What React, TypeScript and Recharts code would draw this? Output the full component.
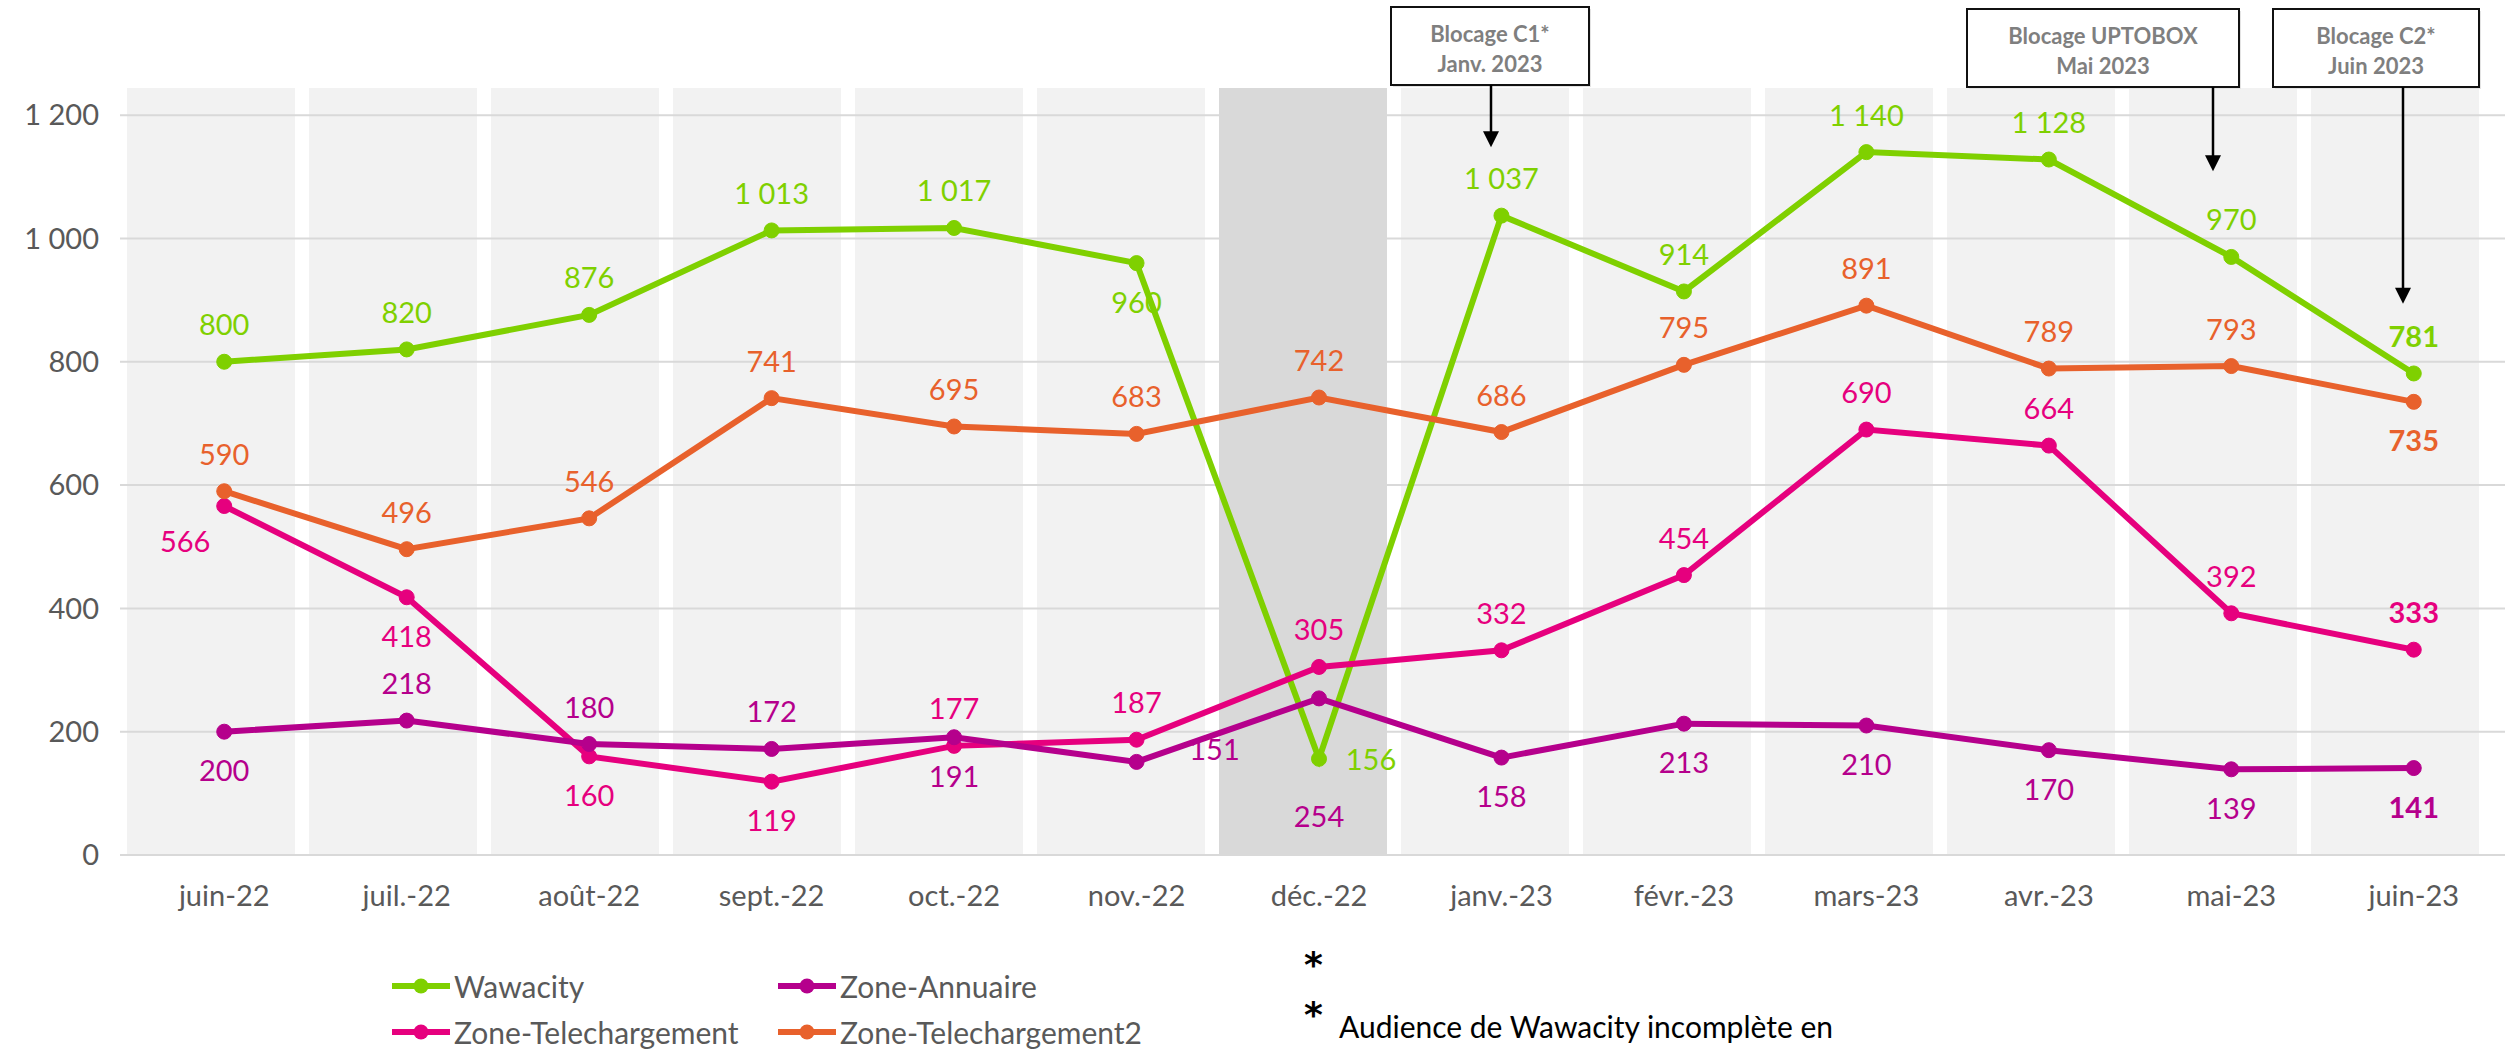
import React from "react";
import { Bar, Cell, ComposedChart, LabelList, Line, ReferenceLine, XAxis, YAxis } from "recharts";

const months = [
  "juin-22", "juil.-22", "août-22", "sept.-22", "oct.-22", "nov.-22", "déc.-22",
  "janv.-23", "févr.-23", "mars-23", "avr.-23", "mai-23", "juin-23",
];
const wawacity = [800, 820, 876, 1013, 1017, 960, 156, 1037, 914, 1140, 1128, 970, 781];
const zoneAnnuaire = [200, 218, 180, 172, 191, 151, 254, 158, 213, 210, 170, 139, 141];
const zoneTelechargement = [566, 418, 160, 119, 177, 187, 305, 332, 454, 690, 664, 392, 333];
const zoneTelechargement2 = [590, 496, 546, 741, 695, 683, 742, 686, 795, 891, 789, 793, 735];
const yTicks = [0, 200, 400, 600, 800, 1000, 1200];
const yMax = 1244;
const highlightMonth = "déc.-22";

const annotations = [
  { month: "janv.-23", lines: ["Blocage C1*", "Janv. 2023"], target: 1148 },
  { month: "mai-23", lines: ["Blocage UPTOBOX", "Mai 2023"], target: 1109 },
  { month: "juin-23", lines: ["Blocage C2*", "Juin 2023"], target: 894 },
];

// label placement per point (style only)
const wawacityPlace = ["top", "top", "top", "top", "top", "bottom", "right", "top", "top", "top", "top", "top", "top"];
const annuairePlace = ["bottom", "top", "top", "top", "bottom", "farRight", "farBottom", "bottom", "bottom", "bottom", "bottom", "bottom", "bottom"];
const telechPlace = ["bottomLeft", "bottom", "bottom", "bottom", "top", "top", "top", "top", "top", "top", "top", "top", "top"];
const telech2Place = ["top", "top", "top", "top", "top", "top", "top", "top", "top", "top", "top", "top", "bottom"];

const offsets: Record<string, [number, number]> = {
  top: [0, -38],
  bottom: [0, 38],
  right: [52, 0],
  farRight: [78, -13],
  bottomLeft: [-39, 34],
  farBottom: [0, 117],
};

// annotation box geometry: arrow shift, box shift from arrow, width, top
const boxStyle = [
  { ax: 6, dx: -1, w: 198, top: 7 },
  { ax: 0, dx: -110, w: 272, top: 9 },
  { ax: 8, dx: -27, w: 206, top: 9 },
];

const FONT = "Lato, 'Open Sans', sans-serif";
const GREEN = "#7FD000";
const PURPLE = "#B5008C";
const PINK = "#E6007E";
const ORANGE = "#E8612C";
const GREY_TEXT = "#595959";

const rows = months.map((m, i) => ({
  month: m,
  band: yMax,
  wawacity: wawacity[i],
  zoneAnnuaire: zoneAnnuaire[i],
  zoneTelechargement: zoneTelechargement[i],
  zoneTelechargement2: zoneTelechargement2[i],
}));

const fmt = (v: number) => String(v).replace(/\B(?=(\d{3})+(?!\d))/g, " ");

function makeLabel(color: string, place: string[]) {
  return (props: any) => {
    const { x, y, value, index } = props;
    const [dx, dy] = offsets[place[index]] ?? [0, -38];
    const last = index === months.length - 1;
    return (
      <text
        x={x + dx}
        y={y + dy}
        fill={color}
        textAnchor="middle"
        dominantBaseline="central"
        fontSize={29}
        fontWeight={last ? 700 : 400}
        fontFamily={FONT}
      >
        {fmt(value)}
      </text>
    );
  };
}

function makeAnnotation(idx: number) {
  const a = annotations[idx];
  const s = boxStyle[idx];
  return (props: any) => {
    const ax = props.x1 + s.ax;
    const y2 = props.y2;
    const bx = ax + s.dx - s.w / 2;
    const h = 78;
    const bottom = s.top + h;
    return (
      <g>
        <rect x={bx + 2} y={s.top + 2} width={s.w} height={h} fill="#e3e3e3" />
        <rect x={bx} y={s.top} width={s.w} height={h} fill="#fff" stroke="#111" strokeWidth={2} />
        {a.lines.map((t, k) => (
          <text
            key={k}
            x={bx + s.w / 2}
            y={s.top + 26 + k * 30}
            textAnchor="middle"
            dominantBaseline="central"
            fontSize={22}
            fontWeight={700}
            fontFamily={FONT}
            fill="#7F7F7F"
          >
            {t}
          </text>
        ))}
        <line x1={ax} y1={bottom} x2={ax} y2={y2 - 14} stroke="#000" strokeWidth={2.5} />
        <polygon points={`${ax - 8},${y2 - 16} ${ax + 8},${y2 - 16} ${ax},${y2}`} fill="#000" />
      </g>
    );
  };
}

const legendItems = [
  { name: "Wawacity", color: GREEN, x: 392, y: 986 },
  { name: "Zone-Annuaire", color: PURPLE, x: 778, y: 986 },
  { name: "Zone-Telechargement", color: PINK, x: 392, y: 1032 },
  { name: "Zone-Telechargement2", color: ORANGE, x: 778, y: 1032 },
];

export default function App() {
  return (
    <div style={{ position: "absolute", left: 0, top: 0, width: 2506, height: 1051, background: "#fff" }}>
      <ComposedChart
        width={2506}
        height={1051}
        data={rows}
        margin={{ top: 88, right: 1, bottom: 136, left: 0 }}
      >
        <XAxis xAxisId="bands" dataKey="month" hide padding={{ left: 0, right: 19 }} />
        <XAxis
          xAxisId="main"
          dataKey="month"
          padding={{ left: 13, right: 0 }}
          height={60}
          axisLine={false}
          tickLine={false}
          tickSize={0}
          tickMargin={0}
          interval={0}
          tick={{ fill: GREY_TEXT, fontSize: 29, fontFamily: FONT }}
        />
        <YAxis
          domain={[0, yMax]}
          ticks={yTicks}
          allowDataOverflow
          width={120}
          axisLine={false}
          tickLine={false}
          tickSize={0}
          tickMargin={21}
          tickFormatter={fmt}
          tick={{ fill: GREY_TEXT, fontSize: 29, fontFamily: FONT }}
        />
        <Bar xAxisId="bands" dataKey="band" barSize={168} isAnimationActive={false}>
          {rows.map((r) => (
            <Cell key={r.month} fill={r.month === highlightMonth ? "#D9D9D9" : "#F2F2F2"} />
          ))}
        </Bar>
        {yTicks.map((t) => (
          <ReferenceLine key={t} xAxisId="main" y={t} stroke="#D9D9D9" strokeWidth={2} />
        ))}
        <Line
          xAxisId="main"
          dataKey="wawacity"
          stroke={GREEN}
          strokeWidth={6}
          dot={{ r: 7.5, fill: GREEN, stroke: GREEN, strokeWidth: 1 }}
          isAnimationActive={false}
        >
          <LabelList dataKey="wawacity" content={makeLabel(GREEN, wawacityPlace)} />
        </Line>
        <Line
          xAxisId="main"
          dataKey="zoneTelechargement"
          stroke={PINK}
          strokeWidth={6}
          dot={{ r: 7.5, fill: PINK, stroke: PINK, strokeWidth: 1 }}
          isAnimationActive={false}
        >
          <LabelList dataKey="zoneTelechargement" content={makeLabel(PINK, telechPlace)} />
        </Line>
        <Line
          xAxisId="main"
          dataKey="zoneAnnuaire"
          stroke={PURPLE}
          strokeWidth={6}
          dot={{ r: 7.5, fill: PURPLE, stroke: PURPLE, strokeWidth: 1 }}
          isAnimationActive={false}
        >
          <LabelList dataKey="zoneAnnuaire" content={makeLabel(PURPLE, annuairePlace)} />
        </Line>
        <Line
          xAxisId="main"
          dataKey="zoneTelechargement2"
          stroke={ORANGE}
          strokeWidth={6}
          dot={{ r: 7.5, fill: ORANGE, stroke: ORANGE, strokeWidth: 1 }}
          isAnimationActive={false}
        >
          <LabelList dataKey="zoneTelechargement2" content={makeLabel(ORANGE, telech2Place)} />
        </Line>
        {annotations.map((a, i) => (
          <ReferenceLine
            key={a.month}
            xAxisId="bands"
            ifOverflow="visible"
            segment={[
              { x: a.month, y: yMax },
              { x: a.month, y: a.target },
            ]}
            shape={makeAnnotation(i)}
          />
        ))}
      </ComposedChart>

      {legendItems.map((l) => (
        <div
          key={l.name}
          style={{
            position: "absolute",
            left: l.x,
            top: l.y - 20,
            height: 40,
            display: "flex",
            alignItems: "center",
            fontFamily: FONT,
            fontSize: 30,
            color: GREY_TEXT,
            whiteSpace: "nowrap",
          }}
        >
          <svg width={58} height={20} style={{ marginRight: 4 }}>
            <line x1={0} y1={10} x2={58} y2={10} stroke={l.color} strokeWidth={6} />
            <circle cx={29} cy={10} r={7.5} fill={l.color} />
          </svg>
          {l.name}
        </div>
      ))}
      <div style={{ position: "absolute", left: 1304, top: 945, fontFamily: "'DejaVu Sans', sans-serif", fontSize: 36, fontWeight: 700, color: "#000", lineHeight: "40px" }}>*</div>
      <div style={{ position: "absolute", left: 1304, top: 995, fontFamily: "'DejaVu Sans', sans-serif", fontSize: 36, fontWeight: 700, color: "#000", lineHeight: "40px" }}>*</div>
      <div
        style={{
          position: "absolute",
          left: 1339,
          top: 1006,
          fontFamily: FONT,
          fontSize: 30,
          color: "#000",
          whiteSpace: "nowrap",
          lineHeight: "40px",
        }}
      >
        Audience de Wawacity incomplète en
      </div>
    </div>
  );
}
